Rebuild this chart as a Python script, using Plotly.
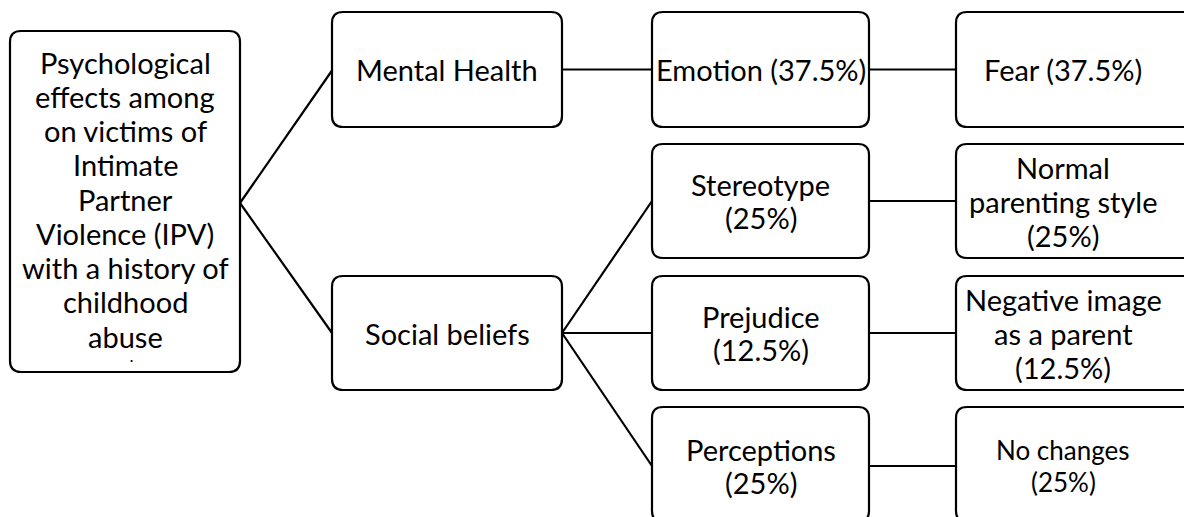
import plotly.graph_objects as go

# ---- data ----
root_lines = ["Psychological", "effects among", "on victims of", "Intimate", "Partner",
              "Violence (IPV)", "with a history of", "childhood", "abuse"]
categories = ["Mental Health", "Social beliefs"]
themes = ["Emotion", "Stereotype", "Prejudice", "Perceptions"]
theme_pct = ["37.5%", "25%", "12.5%", "25%"]
theme_lines = [["Emotion (37.5%)"], ["Stereotype", "(25%)"], ["Prejudice", "(12.5%)"], ["Perceptions", "(25%)"]]
theme_parent = [0, 1, 1, 1]
outcomes = ["Fear", "Normal parenting style", "Negative image as a parent", "No changes"]
outcome_pct = ["37.5%", "25%", "12.5%", "25%"]
outcome_lines = [["Fear (37.5%)"], ["Normal", "parenting style", "(25%)"],
                 ["Negative image", "as a parent", "(12.5%)"], ["No changes", "(25%)"]]
outcome_font_scale = [1.0, 1.0, 1.0, 0.9]

# ---- layout geometry (page pixels) ----
W, H = 1192, 517
OFF = 8  # default body margin of the html page
FONT = "Lato"
FS = 29
PITCH = 34
LW = 2.2
R = 11

root_box = (10, 31, 240, 372)
cat_x = (332, 562)
cat_y = [(12, 127), (276, 390)]
th_x = (652, 869)
row_y = [(12, 127), (144, 258), (276, 390), (407, 522)]
out_x = (956, 1215)
out_text_x = 1063


def rr_path(x0, y0, x1, y1, r):
    return (f"M {x0+r},{y0} L {x1-r},{y0} Q {x1},{y0} {x1},{y0+r} "
            f"L {x1},{y1-r} Q {x1},{y1} {x1-r},{y1} L {x0+r},{y1} "
            f"Q {x0},{y1} {x0},{y1-r} L {x0},{y0+r} Q {x0},{y0} {x0+r},{y0} Z")


shapes = []
annotations = []


def box(x0, y0, x1, y1):
    shapes.append(dict(type="path", xref="x", yref="y", path=rr_path(x0, y0, x1, y1, R),
                       line=dict(color="black", width=LW), fillcolor="white", layer="above"))


def line(x0, y0, x1, y1):
    shapes.append(dict(type="line", xref="x", yref="y", x0=x0, y0=y0, x1=x1, y1=y1,
                       line=dict(color="black", width=LW), layer="below"))


def text_block(lines, cx, cy, size=FS, pitch=PITCH):
    n = len(lines)
    for i, t in enumerate(lines):
        y = cy + (i - (n - 1) / 2) * pitch
        annotations.append(dict(x=cx, y=y, xref="x", yref="y", text=t, showarrow=False,
                                xanchor="center", yanchor="middle",
                                font=dict(family=FONT, size=size, color="black")))


def mid(a):
    return (a[0] + a[1]) / 2


# root
box(root_box[0], root_box[1], root_box[2], root_box[3])
text_block(root_lines, mid((root_box[0], root_box[2])), 199, pitch=34.25)
annotations.append(dict(x=131, y=357, xref="x", yref="y", text="<b>.</b>", showarrow=False,
                        xanchor="center", yanchor="middle",
                        font=dict(family=FONT, size=13, color="black")))

root_conn = (root_box[2], 203)

# categories
for i, c in enumerate(categories):
    y0, y1 = cat_y[i]
    box(cat_x[0], y0, cat_x[1], y1)
    text_block([c], mid(cat_x), mid((y0, y1)))
    line(root_conn[0], root_conn[1], cat_x[0], mid((y0, y1)) + (1 if i == 0 else 0))

# themes
for j, lines in enumerate(theme_lines):
    y0, y1 = row_y[j]
    cy = mid((y0, y1)) if j < 3 else 466
    box(th_x[0], y0, th_x[1], y1)
    text_block(lines, mid(th_x), cy, pitch=33)
    py = mid(cat_y[theme_parent[j]])
    line(cat_x[1], py, th_x[0], cy)

# outcomes
for j, lines in enumerate(outcome_lines):
    y0, y1 = row_y[j]
    cy = mid((y0, y1)) if j < 3 else 466
    box(out_x[0], y0, out_x[1], y1)
    sc = outcome_font_scale[j]
    text_block(lines, out_text_x, cy, size=round(FS * sc), pitch=34 if sc == 1.0 else 32)
    line(th_x[1], cy, out_x[0], cy)

fig = go.Figure()
fig.add_trace(go.Scatter(x=[OFF, W], y=[OFF, H], mode="markers", marker=dict(opacity=0),
                         hoverinfo="skip", showlegend=False))
fig.update_layout(
    width=W - OFF, height=H - OFF, margin=dict(l=0, r=0, t=0, b=0),
    paper_bgcolor="white", plot_bgcolor="white",
    xaxis=dict(range=[OFF, W], visible=False, fixedrange=True),
    yaxis=dict(range=[H, OFF], visible=False, fixedrange=True),
    shapes=shapes, annotations=annotations, showlegend=False,
)
fig.write_html("out.html", config={"displayModeBar": False})
